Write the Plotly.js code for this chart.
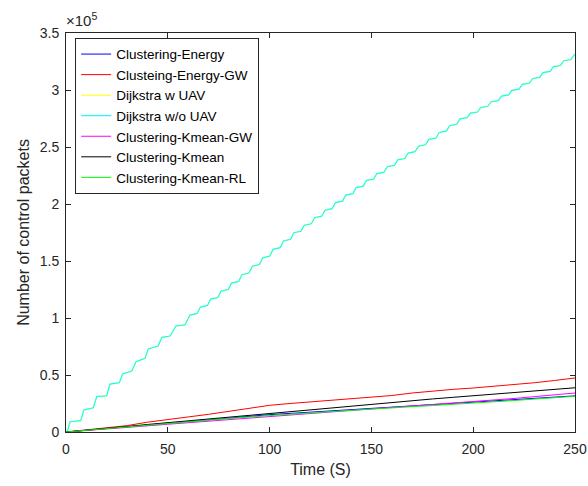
<!DOCTYPE html>
<html>
<head>
<meta charset="utf-8">
<script src="https://cdn.plot.ly/plotly-3.0.1.min.js"></script>
<style>
  html, body { margin: 0; padding: 0; background: #ffffff; }
  #chart { width: 588px; height: 486px; }
</style>
</head>
<body>
<div id="chart"></div>
<script>
// Simulation time (s) for the clustering series
const timeCoarse = [0, 10, 20, 30, 40, 50, 60, 70, 80, 90, 100, 110, 120, 130, 140, 150,
                    160, 170, 180, 190, 200, 210, 220, 230, 240, 250];

// Control packets for the clustering schemes
const clusteringEnergy   = [0, 1500, 3000, 4500, 6100, 7700, 9300, 10900, 12500, 14000, 15200, 16300, 17400,
                            18500, 19600, 20600, 21600, 22600, 23600, 24600, 25700, 26900, 28100, 29300, 30500, 31700];
const clusteringEnergyGW = [0, 1800, 3600, 5600, 8600, 11200, 13200, 15500, 18300, 21000, 23400, 25000, 26400,
                            27800, 29000, 30400, 32000, 34200, 36000, 37400, 38600, 40000, 41600, 43200, 45200, 47400];
const clusteringKmeanGW  = [0, 1200, 2600, 4000, 5400, 6800, 8200, 9600, 10900, 12200, 13600, 15000, 16400,
                            17800, 19200, 20400, 21600, 22800, 24000, 25200, 26600, 28000, 29400, 31000, 32600, 34200];
const clusteringKmean    = [0, 1400, 3000, 4800, 6600, 8200, 9800, 11400, 13200, 15200, 16800, 18200, 19600,
                            21000, 22600, 24200, 25800, 27400, 29000, 30400, 31800, 33200, 34600, 36000, 37400, 38800];
const clusteringKmeanRL  = [0, 1400, 2800, 4200, 5800, 7400, 8900, 10400, 11900, 13300, 14500, 15600, 16800,
                            18000, 19200, 20200, 21200, 22200, 23200, 24200, 25200, 26400, 27600, 28900, 30100, 31300];

// Dijkstra: packets arrive in bursts, so the curve is sampled at each step edge
const timeDijkstra = [0, 0.6, 2.0, 7.2, 8.8, 13.4, 15.1, 20.0, 21.6, 26.2, 27.8, 32.3, 34.4, 38.8, 40.4,
  45.3, 47.0, 51.1, 54.0, 58.4, 60.9, 64.4, 66.0, 69.5, 71.1, 74.6, 76.2, 79.7, 81.3, 84.8, 86.4,
  89.9, 91.5, 95.0, 96.6, 100.1, 101.7, 105.2, 106.8, 110.3, 111.9, 115.4, 117.0, 120.5, 122.1,
  125.6, 127.2, 130.7, 132.3, 135.8, 137.4, 140.9, 142.5, 146.0, 147.6, 151.1, 152.7, 156.2, 157.8,
  161.3, 162.9, 166.4, 168.0, 171.5, 173.1, 176.6, 178.2, 181.7, 183.3, 186.8, 188.4, 191.9, 193.5,
  197.0, 198.6, 202.1, 203.7, 207.2, 208.8, 212.3, 213.9, 217.4, 219.0, 222.5, 224.1, 227.6, 229.2,
  232.7, 234.3, 237.8, 239.4, 242.9, 244.5, 248.0, 249.6, 250.0];
const dijkstraNoUAV = [0, 0, 9000, 9900, 19300, 21300, 31000, 31800, 42000, 43300, 50900, 53500, 61700, 64600, 72800,
  75400, 83000, 84200, 93000, 93900, 102600, 104000, 109600, 111000, 116600, 118000, 123600, 125000, 130600, 132100, 138000,
  139500, 145400, 146900, 152800, 154300, 160200, 161700, 167600, 169000, 174800, 176100, 181400, 182700, 188000,
  189300, 194600, 195900, 201200, 202500, 207800, 209100, 214400, 215700, 220700, 221900, 226700, 227900, 232700,
  233900, 238700, 239900, 244700, 245900, 250700, 251900, 256700, 257900, 262700, 263900, 268700, 269900, 274700,
  275700, 279700, 280700, 284700, 285700, 289700, 290700, 294700, 295700, 299700, 300700, 304900, 305900, 310100,
  311100, 315300, 316300, 320500, 321500, 325700, 326700, 330900, 331000];
const dijkstraUAV = dijkstraNoUAV.slice();

const names = ['Clustering-Energy', 'Clusteing-Energy-GW', 'Dijkstra w UAV', 'Dijkstra w/o UAV',
               'Clustering-Kmean-GW', 'Clustering-Kmean', 'Clustering-Kmean-RL'];
const colors = ['#0000ff', '#ff0000', '#ffff00', '#00ffff', '#ff00ff', '#000000', '#00ff00'];

const yTickVals = [0, 50000, 100000, 150000, 200000, 250000, 300000, 350000];
const yTickText = ['0', '0.5', '1', '1.5', '2', '2.5', '3', '3.5'];
const xTickVals = [0, 50, 100, 150, 200, 250];

const series = [
  [timeCoarse, clusteringEnergy],
  [timeCoarse, clusteringEnergyGW],
  [timeDijkstra, dijkstraUAV],
  [timeDijkstra, dijkstraNoUAV],
  [timeCoarse, clusteringKmeanGW],
  [timeCoarse, clusteringKmean],
  [timeCoarse, clusteringKmeanRL]
];

// the two Dijkstra runs coincide; the w/o-UAV line sits on top of the w-UAV one
const traces = series.map((s, i) => ({
  x: s[0], y: s[1], name: names[i], type: 'scatter', mode: 'lines',
  opacity: i === 3 ? 0.9 : 1,
  line: { color: colors[i], width: i === 3 ? 1.2 : 1 }
}));

const family = 'Liberation Sans, Arial, Helvetica, sans-serif';
const ink = '#262626';

const axisCommon = {
  showgrid: false, zeroline: false, showline: true, linecolor: ink, linewidth: 1,
  mirror: 'ticks', ticks: 'inside', ticklen: 5, tickcolor: ink, tickwidth: 1,
  tickfont: { family: family, size: 14, color: ink }
};

const layout = {
  width: 588, height: 486,
  margin: { l: 66, r: 13, t: 33, b: 54 },
  paper_bgcolor: '#ffffff', plot_bgcolor: '#ffffff',
  font: { family: family, color: ink },
  showlegend: true,
  xaxis: Object.assign({}, axisCommon, {
    range: [0, 250], tickvals: xTickVals, ticklabelstandoff: 4,
    title: { text: 'Time (S)', font: { family: family, size: 16, color: ink }, standoff: 8 }
  }),
  yaxis: Object.assign({}, axisCommon, {
    range: [0, 350000], tickvals: yTickVals, ticktext: yTickText, ticklabelstandoff: 3,
    title: { text: 'Number of control packets', font: { family: family, size: 16, color: ink }, standoff: 6 }
  }),
  legend: {
    x: 0.018, y: 0.988, xanchor: 'left', yanchor: 'top',
    bgcolor: '#ffffff', bordercolor: ink, borderwidth: 1,
    font: { family: family, size: 13.5, color: '#000000' },
    itemwidth: 30, tracegroupgap: 0
  },
  annotations: [{
    xref: 'paper', yref: 'paper', x: 0, y: 1, xanchor: 'left', yanchor: 'bottom',
    text: '\u00d710<sup>5</sup>', showarrow: false, yshift: 2, xshift: -2,
    font: { family: family, size: 15, color: ink }
  }]
};

Plotly.newPlot('chart', traces, layout, { displayModeBar: false, staticPlot: true });
</script>
</body>
</html>
